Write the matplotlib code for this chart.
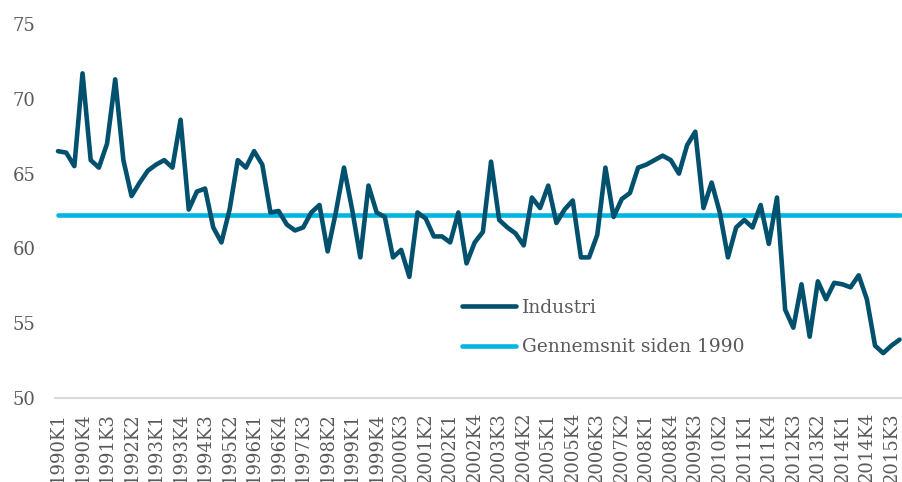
import matplotlib
matplotlib.use("Agg")
import matplotlib.pyplot as plt

# ---- data ----
years = list(range(1990, 2016))
quarters = [f"{y}K{q}" for y in years for q in range(1, 5)]
industri = [
    66.5, 66.4, 65.5, 71.7, 65.9, 65.4, 67.0, 71.3, 65.9, 63.5,
    64.4, 65.2, 65.6, 65.9, 65.4, 68.6, 62.6, 63.8, 64.0, 61.4,
    60.4, 62.6, 65.9, 65.4, 66.5, 65.6, 62.4, 62.5, 61.6, 61.2,
    61.4, 62.4, 62.9, 59.8, 62.4, 65.4, 62.6, 59.4, 64.2, 62.4,
    62.1, 59.4, 59.9, 58.1, 62.4, 62.0, 60.8, 60.8, 60.4, 62.4,
    59.0, 60.4, 61.1, 65.8, 61.9, 61.4, 61.0, 60.2, 63.4, 62.7,
    64.2, 61.7, 62.6, 63.2, 59.4, 59.4, 60.9, 65.4, 62.1, 63.3,
    63.7, 65.4, 65.6, 65.9, 66.2, 65.9, 65.0, 66.9, 67.8, 62.7,
    64.4, 62.4, 59.4, 61.4, 61.9, 61.4, 62.9, 60.3, 63.4, 55.9,
    54.7, 57.6, 54.1, 57.8, 56.6, 57.7, 57.6, 57.4, 58.2, 56.6,
    53.5, 53.0, 53.5, 53.9,
]
gennemsnit = 62.2
yticks = [50, 55, 60, 65, 70, 75]

n = len(industri)
quarters = quarters[:n]
x = list(range(n))

plt.rcParams['font.family'] = ['DejaVu Serif']
text_color = '#595959'
dark = '#00506E'
light = '#00B5E2'

fig = plt.figure(figsize=(9.02, 4.82), dpi=100)
ax = fig.add_axes([55/902, 1-398/482, 1-55/902, (398-24)/482])

ax.plot(x, [gennemsnit]*n, color=light, lw=3.3, solid_capstyle='round',
        label='Gennemsnit siden 1990', zorder=2)
ax.plot(x, industri, color=dark, lw=3.3, solid_capstyle='round',
        solid_joinstyle='round', label='Industri', zorder=3)

ax.set_ylim(50, 75)
ax.set_yticks(yticks)
ax.set_xlim(-0.37, n - 1 + 0.3)
ax.set_xticks(x[::3])
ax.set_xticklabels(quarters[::3], rotation=90)

for s in ['top', 'right', 'left']:
    ax.spines[s].set_visible(False)
ax.spines['bottom'].set_color('#D9D9D9')
ax.spines['bottom'].set_linewidth(1.5)
ax.tick_params(axis='both', length=0, colors=text_color, labelsize=13)
ax.tick_params(axis='y', pad=14)
ax.tick_params(axis='x', pad=10)

handles, labels = ax.get_legend_handles_labels()
leg = fig.legend(handles[::-1], labels[::-1], loc='upper left',
                 bbox_to_anchor=(462/902, 1-299/482), frameon=False,
                 borderpad=0, borderaxespad=0, handlelength=2.9,
                 handletextpad=0.3, labelspacing=1.13, fontsize=13.4)
for t in leg.get_texts():
    t.set_color(text_color)

fig.savefig('out.png', dpi=100)
